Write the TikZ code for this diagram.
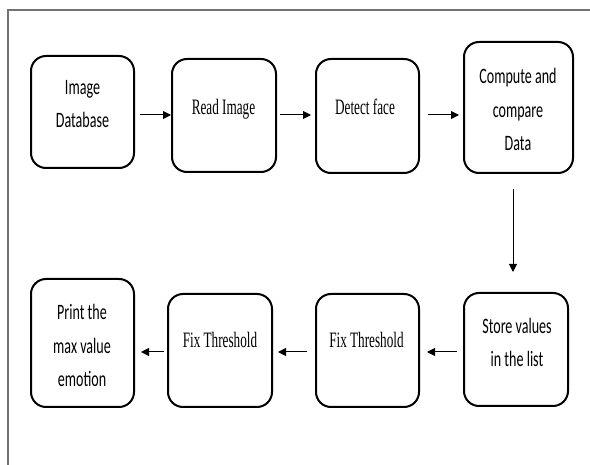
\documentclass[tikz,border=0pt]{standalone}
\usepackage{fontspec}
\newfontfamily\sansnarrow{Carlito}[FakeStretch=0.64]
\newfontfamily\serifnarrow{Liberation Serif}[FakeStretch=0.60]
\usetikzlibrary{arrows.meta,calc}
\definecolor{framegray}{RGB}{115,115,115}
\begin{document}
\begin{tikzpicture}[x=1pt,y=-1pt,
  box/.style={draw=black,line width=2pt,rounded corners=15pt,inner sep=0pt},
  sanslbl/.style={font=\fontsize{22}{33.5}\sansnarrow,align=center,anchor=base,inner sep=0pt},
  seriflbl/.style={font=\fontsize{22}{33.5}\serifnarrow,align=center,anchor=base,inner sep=0pt},
  arr/.style={draw=black,line width=1pt,-{Triangle[length=8pt,width=8pt]}}]
\useasboundingbox (0,0) rectangle (590,465);
\draw[framegray,line width=1.5pt] (8,466) -- (8,10) -- (591,10);
% boxes
\node[box,minimum width=103pt,minimum height=112pt] (b1) at (82.5,112) {};
\node[box,minimum width=104pt,minimum height=113pt] (b2) at (224,115.5) {};
\node[box,minimum width=103pt,minimum height=114pt] (b3) at (367.5,116) {};
\node[box,minimum width=109pt,minimum height=131pt] (b4) at (518.5,107.5) {};
\node[box,minimum width=104pt,minimum height=113pt] (b5) at (516,349.5) {};
\node[box,minimum width=103pt,minimum height=113pt] (b6) at (367.5,350.5) {};
\node[box,minimum width=104pt,minimum height=113pt] (b7) at (220,350.5) {};
\node[box,minimum width=103pt,minimum height=128pt] (b8) at (82.5,343) {};
% labels (base anchor = baseline of the last line)
\node[sanslbl] (t1) at (82.5,128) {Image\\Database};
\node[seriflbl] (t2) at (223.5,115) {Read Image};
\node[seriflbl] (t3) at (365,115) {Detect face};
\node[sanslbl] (t4) at (518,151) {Compute and\\compare\\Data};
\node[sanslbl] (t5) at (517,367) {Store values\\in the list};
\node[seriflbl] (t6) at (366.5,348) {Fix Threshold};
\node[seriflbl] (t7) at (220,348) {Fix Threshold};
\node[sanslbl] (t8) at (82,387) {Print the\\max value\\emotion};
% rows
\coordinate (r1) at (0,115);
\coordinate (r2) at (0,352);
\coordinate (vx) at (513,0);
\draw[arr,shorten <=5pt] (b1.east |- r1) -- (b2.west |- r1);
\draw[arr,shorten <=3pt,shorten >=4pt] (b2.east |- r1) -- (b3.west |- r1);
\draw[arr,shorten <=8pt,shorten >=4pt] (b3.east |- r1) -- (b4.west |- r1);
\draw[arr,shorten <=15pt,shorten >=20pt] (vx |- b4.south) -- (vx |- b5.north);
\draw[arr,shorten <=6pt,shorten >=7pt] (b5.west |- r2) -- (b6.east |- r2);
\draw[arr,shorten <=8pt,shorten >=5pt] (b6.west |- r2) -- (b7.east |- r2);
\draw[arr,shorten <=3pt,shorten >=6pt] (b7.west |- r2) -- (b8.east |- r2);
\end{tikzpicture}
\end{document}
